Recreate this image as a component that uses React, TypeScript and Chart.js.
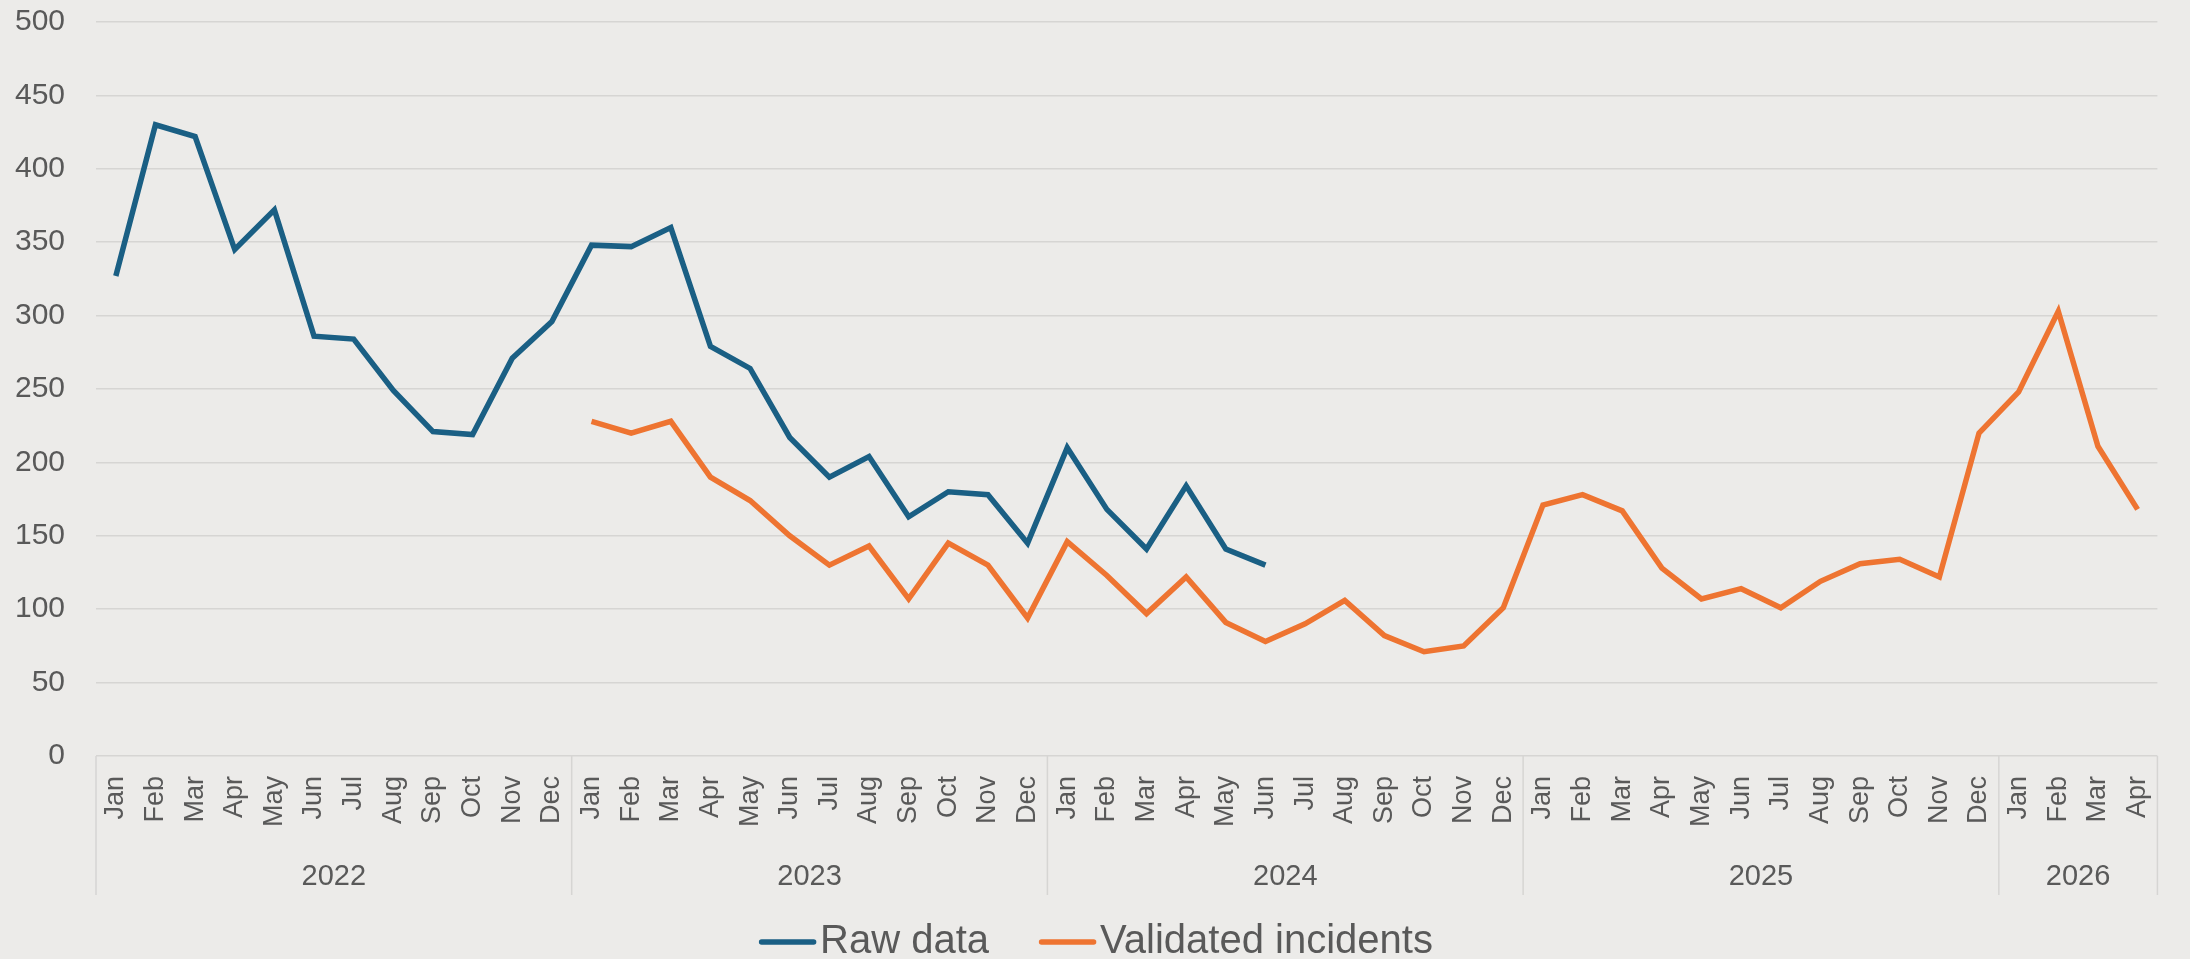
import React, { useEffect, useRef } from 'react';
import { Chart, registerables } from 'chart.js';

Chart.register(...registerables);

const categories = [
  'Jan', 'Feb', 'Mar', 'Apr', 'May', 'Jun', 'Jul', 'Aug', 'Sep', 'Oct', 'Nov', 'Dec',
  'Jan', 'Feb', 'Mar', 'Apr', 'May', 'Jun', 'Jul', 'Aug', 'Sep', 'Oct', 'Nov', 'Dec',
  'Jan', 'Feb', 'Mar', 'Apr', 'May', 'Jun', 'Jul', 'Aug', 'Sep', 'Oct', 'Nov', 'Dec',
  'Jan', 'Feb', 'Mar', 'Apr', 'May', 'Jun', 'Jul', 'Aug', 'Sep', 'Oct', 'Nov', 'Dec',
  'Jan', 'Feb', 'Mar', 'Apr',
];

const years = ['2022', '2023', '2024', '2025', '2026'];
const monthsPerYear = [12, 12, 12, 12, 4];

const rawData: (number | null)[] = [
  327, 430, 422, 345, 372, 286, 284, 249, 221, 219, 271, 296,
  348, 347, 360, 279, 264, 217, 190, 204, 163, 180, 178, 145,
  210, 168, 141, 184, 141, 130, null, null, null, null, null, null,
  null, null, null, null, null, null, null, null, null, null, null, null,
  null, null, null, null,
];

const validatedIncidents: (number | null)[] = [
  null, null, null, null, null, null, null, null, null, null, null, null,
  228, 220, 228, 190, 174, 150, 130, 143, 107, 145, 130, 94,
  146, 123, 97, 122, 91, 78, 90, 106, 82, 71, 75, 101,
  171, 178, 167, 128, 107, 114, 101, 119, 131, 134, 122, 220,
  248, 303, 211, 168,
];

const seriesNames = ['Raw data', 'Validated incidents'];
const seriesColors = ['#1a5f84', '#ee7431'];

const BG = '#ecebe9';
const GRID = '#d6d5d3';
const TEXT = '#595959';
const FONT = "'Liberation Sans', Arial, sans-serif";

const TARGET = { left: 96, top: 22, right: 2177, bottom: 756 };

const backgroundPlugin = {
  id: 'bgFill',
  beforeDraw(chart: any) {
    const { ctx, width, height } = chart;
    ctx.save();
    ctx.fillStyle = BG;
    ctx.fillRect(0, 0, width, height);
    ctx.restore();
  },
};

const yearAxisPlugin = {
  id: 'yearAxis',
  afterDraw(chart: any) {
    const ctx = chart.ctx;
    const xs = chart.scales.x;
    const top = chart.chartArea.bottom;
    const half = (xs.getPixelForValue(1) - xs.getPixelForValue(0)) / 2;
    ctx.save();
    ctx.strokeStyle = GRID;
    ctx.lineWidth = 1.5;
    ctx.fillStyle = TEXT;
    ctx.font = `29px ${FONT}`;
    ctx.textAlign = 'center';
    ctx.textBaseline = 'alphabetic';
    let start = 0;
    for (let g = 0; g < years.length; g++) {
      const count = monthsPerYear[g];
      const left = xs.getPixelForValue(start) - half;
      ctx.beginPath();
      ctx.moveTo(left, top);
      ctx.lineTo(left, 895);
      ctx.stroke();
      const cx = (xs.getPixelForValue(start) + xs.getPixelForValue(start + count - 1)) / 2;
      ctx.fillText(years[g], cx, 885);
      start += count;
    }
    const right = xs.getPixelForValue(start - 1) + half;
    ctx.beginPath();
    ctx.moveTo(right, top);
    ctx.lineTo(right, 895);
    ctx.stroke();
    ctx.restore();
  },
};

const legendPlugin = {
  id: 'customLegend',
  afterDraw(chart: any) {
    const ctx = chart.ctx;
    ctx.save();
    ctx.font = `40px ${FONT}`;
    const markerW = 57;
    const markerGap = 4;
    const itemGap = 50;
    const widths = seriesNames.map((n) => ctx.measureText(n).width);
    let total = 0;
    widths.forEach((w, i) => {
      total += markerW + markerGap + w + (i < widths.length - 1 ? itemGap : 0);
    });
    let x = chart.width / 2 + 1 - total / 2;
    const yLine = 942;
    const yText = 953;
    seriesNames.forEach((name, i) => {
      ctx.strokeStyle = seriesColors[i];
      ctx.lineWidth = 5.5;
      ctx.lineCap = 'round';
      ctx.beginPath();
      ctx.moveTo(x + 2.5, yLine);
      ctx.lineTo(x + markerW - 2.5, yLine);
      ctx.stroke();
      x += markerW + markerGap;
      ctx.fillStyle = TEXT;
      ctx.textAlign = 'left';
      ctx.textBaseline = 'alphabetic';
      ctx.fillText(name, x, yText);
      x += widths[i] + itemGap;
    });
    ctx.restore();
  },
};

export default function App() {
  const canvasRef = useRef<HTMLCanvasElement | null>(null);

  useEffect(() => {
    document.body.style.margin = '0';
    document.body.style.background = BG;
    const canvas = canvasRef.current;
    if (!canvas) return;
    const pad = { top: 22, right: 13, left: 0, bottom: 0 };
    const chart: any = new Chart(canvas, {
      type: 'line',
      data: {
        labels: categories,
        datasets: [
          {
            label: seriesNames[0],
            data: rawData,
            borderColor: seriesColors[0],
            backgroundColor: seriesColors[0],
            borderWidth: 5.5,
            pointRadius: 0,
            pointHoverRadius: 0,
            tension: 0,
            spanGaps: false,
          },
          {
            label: seriesNames[1],
            data: validatedIncidents,
            borderColor: seriesColors[1],
            backgroundColor: seriesColors[1],
            borderWidth: 5.5,
            pointRadius: 0,
            pointHoverRadius: 0,
            tension: 0,
            spanGaps: false,
          },
        ],
      },
      options: {
        responsive: false,
        animation: false,
        devicePixelRatio: 1,
        layout: { padding: { ...pad } },
        plugins: {
          legend: { display: false },
          tooltip: { enabled: false },
        },
        scales: {
          x: {
            type: 'category',
            offset: true,
            grid: { display: false, drawTicks: false, offset: true },
            border: { display: false },
            ticks: {
              autoSkip: false,
              minRotation: 90,
              maxRotation: 90,
              padding: 20,
              color: TEXT,
              font: { family: FONT, size: 27 },
            },
            afterFit(scale: any) {
              scale.height = 203;
            },
          },
          y: {
            min: 0,
            max: 500,
            ticks: {
              stepSize: 50,
              padding: 31,
              color: TEXT,
              font: { family: FONT, size: 30 },
            },
            grid: { color: GRID, lineWidth: 1.5, drawTicks: false },
            border: { display: false },
            afterFit(scale: any) {
              scale.width = 96;
              scale.paddingTop = 0;
              scale.paddingBottom = 0;
            },
          },
        },
      },
      plugins: [backgroundPlugin, yearAxisPlugin, legendPlugin],
    });
    // nudge layout padding so the plot area lands where the reference has it
    for (let i = 0; i < 4; i++) {
      const ca = chart.chartArea;
      const dTop = TARGET.top - ca.top;
      const dRight = ca.right - TARGET.right;
      const dLeft = TARGET.left - ca.left;
      if (Math.abs(dTop) < 0.5 && Math.abs(dRight) < 0.5 && Math.abs(dLeft) < 0.5) break;
      pad.top += dTop;
      pad.right += dRight;
      pad.left += dLeft;
      chart.options.layout = { padding: { ...pad } };
      chart.update();
    }
    return () => chart.destroy();
  }, []);

  return (
    <div style={{ position: 'absolute', left: 0, top: 0, width: 2190, height: 959, background: BG }}>
      <canvas ref={canvasRef} width={2190} height={959} style={{ display: 'block', width: 2190, height: 959 }} />
    </div>
  );
}
